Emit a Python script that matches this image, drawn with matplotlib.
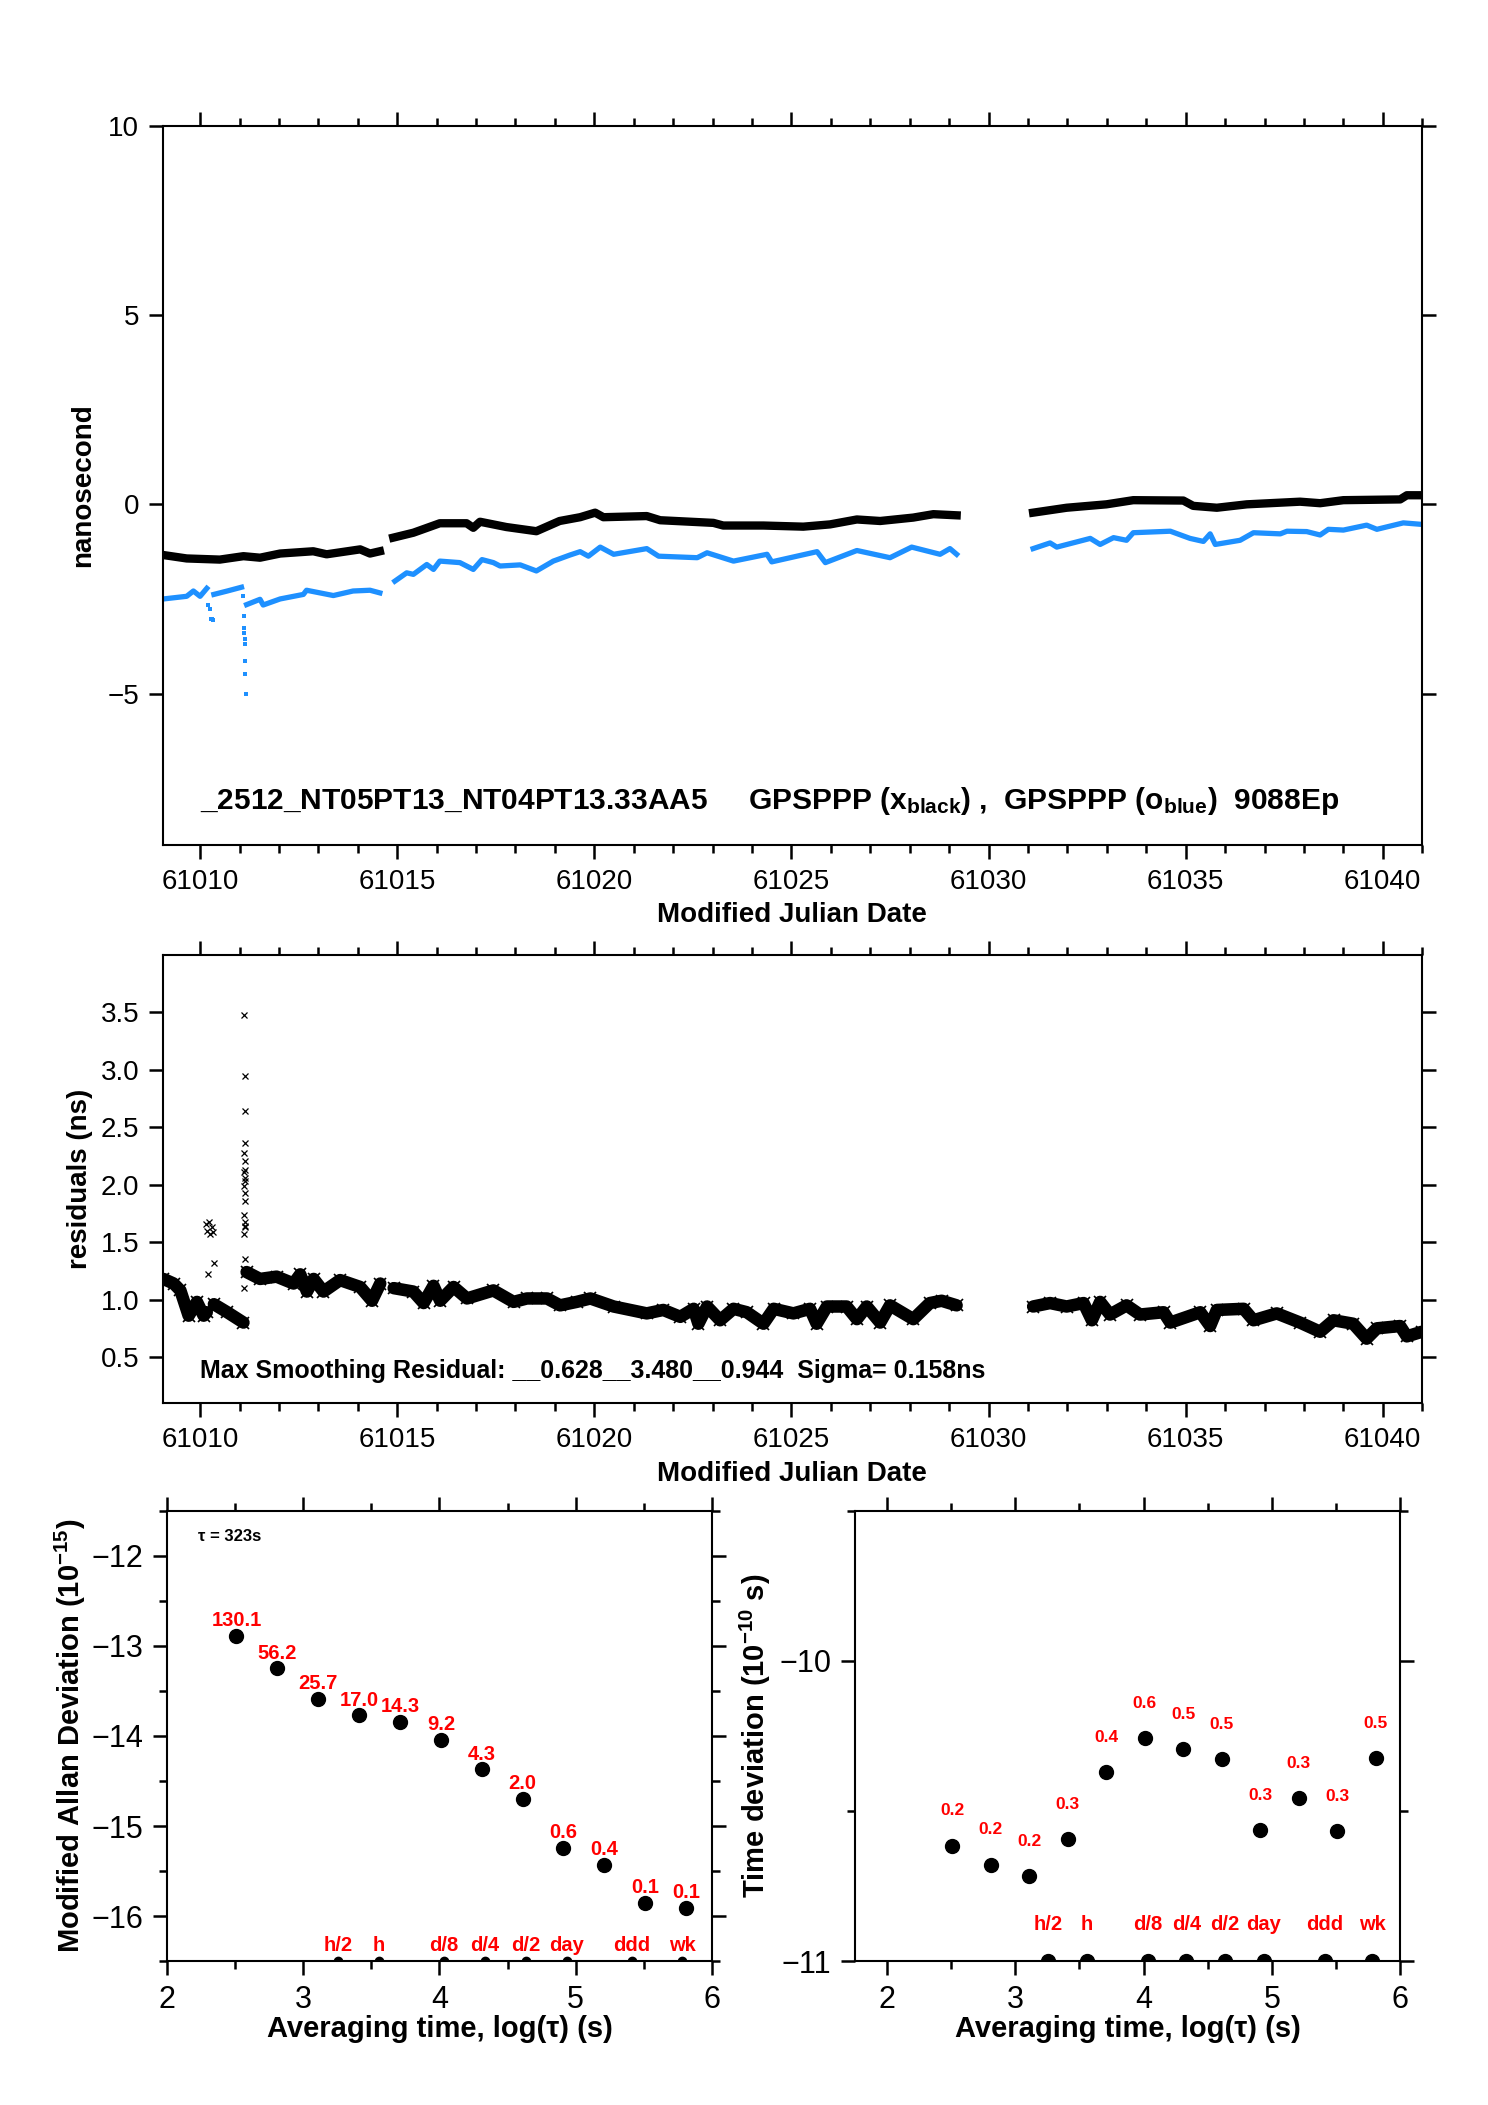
import numpy as np
import matplotlib
matplotlib.use('Agg')
import matplotlib.pyplot as plt
from matplotlib.ticker import MultipleLocator, FormatStrFormatter

plt.rcParams['font.family'] = ['Liberation Sans', 'DejaVu Sans']
plt.rcParams['mathtext.fontset'] = 'custom'
plt.rcParams['mathtext.rm'] = 'Liberation Sans'
plt.rcParams['mathtext.bf'] = 'Liberation Sans:bold'
plt.rcParams['mathtext.it'] = 'Liberation Sans:italic'

nan = np.nan

# top panel: GPSPPP (black) time series, ns
mjd_black = [61009.07, 61009.66, 61010.50, 61011.10, 61011.52, 61012.03, 61012.87, 61013.21,
             61014.06, 61014.31, 61014.56, nan,
             61014.90, 61015.41, 61016.08, 61016.76, 61016.93, 61017.10, 61017.77, 61018.53,
             61019.12, 61019.64, 61020.02, 61020.23, 61021.33, 61021.67, 61023.02, 61023.27,
             61024.29, 61025.30, 61025.98, 61026.66, 61027.25, 61028.09, 61028.60, 61029.19, nan,
             61031.13, 61031.98, 61032.99, 61033.67, 61034.94, 61035.19, 61035.79, 61036.55,
             61037.90, 61038.41, 61039.00, 61040.44, 61040.61, 61040.99]
ns_black = [-1.34, -1.43, -1.46, -1.37, -1.41, -1.30, -1.24, -1.32,
            -1.19, -1.30, -1.24, nan,
            -0.88, -0.75, -0.50, -0.50, -0.62, -0.46, -0.60, -0.71,
            -0.44, -0.34, -0.22, -0.34, -0.31, -0.42, -0.49, -0.56,
            -0.56, -0.59, -0.53, -0.40, -0.44, -0.35, -0.26, -0.29, nan,
            -0.22, -0.09, 0.00, 0.11, 0.10, -0.04, -0.09, 0.00,
            0.07, 0.03, 0.11, 0.13, 0.24, 0.24]

# top panel: GPSPPP (blue) time series, ns
mjd_blue = [61009.07, 61009.66, 61009.83, 61010.00, 61010.17, nan,
            61010.35, 61010.69, 61011.05, nan,
            61011.18, 61011.52, 61011.60, 61012.03, 61012.62, 61012.70, 61013.38, 61013.88,
            61014.31, 61014.56, nan,
            61014.94, 61015.24, 61015.41, 61015.75, 61015.92, 61016.08, 61016.59, 61016.93,
            61017.15, 61017.44, 61017.61, 61018.12, 61018.53, 61018.96, 61019.38, 61019.64,
            61019.85, 61020.15, 61020.49, 61021.33, 61021.63, 61022.61, 61022.86, 61023.53,
            61024.38, 61024.50, 61025.65, 61025.86, 61026.66, 61027.50, 61028.05, 61028.77,
            61029.02, 61029.19, nan,
            61031.13, 61031.56, 61031.73, 61032.58, 61032.83, 61033.17, 61033.50, 61033.67,
            61034.61, 61035.11, 61035.45, 61035.62, 61035.75, 61036.38, 61036.72, 61037.40,
            61037.57, 61038.07, 61038.41, 61038.62, 61039.00, 61039.59, 61039.85, 61040.52,
            61040.99]
ns_blue = [-2.50, -2.43, -2.29, -2.43, -2.22, nan,
           -2.38, -2.29, -2.19, nan,
           -2.65, -2.51, -2.66, -2.50, -2.38, -2.27, -2.41, -2.29,
           -2.27, -2.34, nan,
           -2.03, -1.81, -1.85, -1.59, -1.72, -1.50, -1.54, -1.72,
           -1.46, -1.54, -1.63, -1.60, -1.76, -1.50, -1.34, -1.25,
           -1.37, -1.13, -1.32, -1.17, -1.37, -1.41, -1.28, -1.50,
           -1.32, -1.52, -1.25, -1.54, -1.22, -1.41, -1.13, -1.32,
           -1.17, -1.32, nan,
           -1.17, -1.02, -1.13, -0.90, -1.06, -0.88, -0.95, -0.75,
           -0.71, -0.90, -0.98, -0.78, -1.06, -0.95, -0.75, -0.78,
           -0.71, -0.72, -0.81, -0.66, -0.68, -0.55, -0.66, -0.49,
           -0.53]

# isolated blue points (spikes)
mjd_blue_spike = [61010.20, 61010.24, 61010.28, 61010.31, 61010.33,
                  61011.10, 61011.11, 61011.12, 61011.12, 61011.13, 61011.13, 61011.14, 61011.15, 61011.16]
ns_blue_spike = [-2.65, -2.77, -3.02, -3.04, -3.06,
                 -2.43, -2.96, -3.27, -3.40, -3.55, -3.70, -4.14, -4.48, -5.01]

# middle panel: smoothing residuals, ns
mjd_res = [61009.07, 61009.33, 61009.50, 61009.71, 61009.92, 61010.09, 61010.17, nan,
           61010.35, 61010.69, 61011.10, nan,
           61011.18, 61011.52, 61011.94, 61012.37, 61012.54, 61012.71, 61012.88, 61013.13,
           61013.55, 61014.06, 61014.36, 61014.57, nan,
           61014.91, 61015.41, 61015.67, 61015.92, 61016.09, 61016.43, 61016.77, 61017.44,
           61017.95, 61018.29, 61018.80, 61019.13, 61019.55, 61019.90, 61020.49, 61021.33,
           61021.75, 61022.18, 61022.52, 61022.64, 61022.86, 61023.19, 61023.53, 61023.87,
           61024.29, 61024.55, 61025.05, 61025.47, 61025.64, 61025.90, 61026.40, 61026.66,
           61026.91, 61027.25, 61027.50, 61028.09, 61028.51, 61028.81, 61029.19, nan,
           61031.13, 61031.56, 61031.98, 61032.41, 61032.62, 61032.83, 61033.08, 61033.50,
           61033.84, 61034.44, 61034.61, 61035.37, 61035.62, 61035.79, 61036.47, 61036.72,
           61037.31, 61037.90, 61038.41, 61038.75, 61039.25, 61039.59, 61039.85, 61040.44,
           61040.61, 61040.99]
res = [1.18, 1.14, 1.08, 0.86, 0.98, 0.86, 0.89, nan,
       0.96, 0.89, 0.80, nan,
       1.24, 1.18, 1.20, 1.14, 1.22, 1.07, 1.18, 1.07,
       1.17, 1.11, 0.99, 1.14, nan,
       1.10, 1.07, 0.97, 1.12, 0.99, 1.11, 1.01, 1.08,
       0.98, 1.01, 1.01, 0.95, 0.98, 1.01, 0.94, 0.88,
       0.91, 0.85, 0.92, 0.79, 0.94, 0.82, 0.92, 0.89,
       0.79, 0.92, 0.88, 0.92, 0.79, 0.94, 0.94, 0.83,
       0.94, 0.80, 0.95, 0.83, 0.97, 0.99, 0.95, nan,
       0.94, 0.97, 0.94, 0.97, 0.82, 0.98, 0.87, 0.95,
       0.87, 0.89, 0.80, 0.89, 0.77, 0.91, 0.92, 0.82,
       0.88, 0.80, 0.72, 0.82, 0.79, 0.66, 0.75, 0.77,
       0.68, 0.72]

# middle panel: isolated residual points
mjd_res_out = [61010.14, 61010.18, 61010.22, 61010.26, 61010.30, 61010.34, 61010.20, 61010.36,
               61011.12, 61011.13, 61011.13, 61011.14, 61011.12, 61011.14, 61011.13, 61011.12,
               61011.14, 61011.13, 61011.12, 61011.14, 61011.13, 61011.12, 61011.14, 61011.13,
               61011.12, 61011.13, 61011.12, 61011.13]
res_out = [1.66, 1.60, 1.68, 1.57, 1.63, 1.59, 1.22, 1.32,
           3.48, 2.95, 2.64, 2.36, 2.28, 2.21, 2.13, 2.11,
           2.06, 2.03, 1.99, 1.93, 1.86, 1.74, 1.64, 1.63,
           1.57, 1.35, 1.10, 1.68]

# bottom panels: stability
log_tau = [2.51, 2.81, 3.11, 3.41, 3.71, 4.01, 4.31, 4.61, 4.91, 5.21, 5.51, 5.81]
mdev_log = [-12.89, -13.25, -13.59, -13.77, -13.84, -14.04, -14.37, -14.70, -15.24, -15.43, -15.85, -15.91]
mdev_lab = ['130.1', '56.2', '25.7', '17.0', '14.3', '9.2', '4.3', '2.0', '0.6', '0.4', '0.1', '0.1']
tdev_log = [-10.615, -10.679, -10.717, -10.594, -10.370, -10.258, -10.294, -10.328, -10.563, -10.456, -10.567, -10.324]
tdev_lab = ['0.2', '0.2', '0.2', '0.3', '0.4', '0.6', '0.5', '0.5', '0.3', '0.3', '0.3', '0.5']
mark_names = ['h/2', 'h', 'd/8', 'd/4', 'd/2', 'day', 'ddd', 'wk']
mark_log = [3.255, 3.556, 4.033, 4.334, 4.635, 4.936, 5.414, 5.781]

RED = '#ff0000'
BLUE = '#1e90ff'


def style(ax, size):
    for s in ax.spines.values():
        s.set_linewidth(1.5)
    ax.tick_params(which='both', direction='out', top=True, right=True, width=1.8,
                   labelsize=size, pad=7)
    ax.tick_params(which='major', length=10)
    ax.tick_params(which='minor', length=6)


fig = plt.figure(figsize=(14.88, 21.05), dpi=100)

# ---- top panel
ax1 = fig.add_axes([0.1093, 0.5986, 0.8465, 0.3416])
ax1.plot(mjd_black, ns_black, color='black', lw=6, solid_joinstyle='round')
ax1.plot(mjd_blue, ns_blue, color=BLUE, lw=3.8, solid_joinstyle='round')
ax1.plot(mjd_blue_spike, ns_blue_spike, 's', color=BLUE, ms=3, mew=0)
ax1.set_xlim(61009.05, 61041.0)
ax1.set_ylim(-9, 10)
ax1.xaxis.set_major_locator(MultipleLocator(5))
ax1.xaxis.set_minor_locator(MultipleLocator(1))
ax1.xaxis.set_major_formatter(FormatStrFormatter('%d'))
ax1.yaxis.set_major_locator(MultipleLocator(5))
style(ax1, 20)
ax1.set_ylabel('nanosecond', fontsize=20, fontweight='bold')
ax1.yaxis.set_label_coords(-0.053, 0.5)
ax1.set_xlabel('Modified Julian Date', fontsize=20, fontweight='bold')
ax1.xaxis.set_label_coords(0.5, -0.097)
ax1.xaxis.label.set_va('center')
ax1.text(61010.0, -7.85,
         r'_2512_NT05PT13_NT04PT13.33AA5     GPSPPP (x$_{\mathbf{black}}$) ,  '
         r'GPSPPP (o$_{\mathbf{blue}}$)  9088Ep',
         fontsize=21.5, fontweight='bold', va='center', ha='left')

# ---- middle panel
ax2 = fig.add_axes([0.1093, 0.3335, 0.8465, 0.2128])
ax2.plot(mjd_res, res, color='black', lw=9, solid_joinstyle='round', solid_capstyle='round')
ax2.plot(mjd_res, res, 'x', color='black', ms=9, mew=1.2)
ax2.plot(mjd_res_out, res_out, 'x', color='black', ms=5, mew=0.9)
ax2.set_xlim(61009.05, 61041.0)
ax2.set_ylim(0.1, 4.0)
ax2.xaxis.set_major_locator(MultipleLocator(5))
ax2.xaxis.set_minor_locator(MultipleLocator(1))
ax2.xaxis.set_major_formatter(FormatStrFormatter('%d'))
ax2.set_yticks(np.arange(0.5, 3.51, 0.5))
ax2.yaxis.set_major_formatter(FormatStrFormatter('%.1f'))
style(ax2, 20)
ax2.set_ylabel('residuals (ns)', fontsize=20, fontweight='bold')
ax2.yaxis.set_label_coords(-0.055, 0.5)
ax2.set_xlabel('Modified Julian Date', fontsize=20, fontweight='bold')
ax2.xaxis.set_label_coords(0.5, -0.158)
ax2.xaxis.label.set_va('center')
ax2.text(61010.0, 0.38, 'Max Smoothing Residual: __0.628__3.480__0.944  Sigma= 0.158ns',
         fontsize=18, fontweight='bold', va='center', ha='left')

# ---- bottom left: modified Allan deviation
ax3 = fig.add_axes([0.1122, 0.0684, 0.3663, 0.2138])
ax3.plot(log_tau, mdev_log, 'o', color='black', ms=10)
for x, y, t in zip(log_tau, mdev_log, mdev_lab):
    ax3.annotate(t, (x, y), xytext=(0, 11), textcoords='offset points', ha='center',
                 va='center', color=RED, fontsize=14.5, fontweight='bold')
ax3.plot(mark_log, [-16.5] * len(mark_log), 'o', color='black', ms=6, clip_on=True)
for x, t in zip(mark_log, mark_names):
    ax3.annotate(t, (x, -16.5), xytext=(0, 11), textcoords='offset points', ha='center',
                 va='center', color=RED, fontsize=14.5, fontweight='bold')
ax3.set_xlim(2, 6)
ax3.set_ylim(-16.5, -11.5)
ax3.xaxis.set_major_locator(MultipleLocator(1))
ax3.xaxis.set_minor_locator(MultipleLocator(0.5))
ax3.yaxis.set_major_locator(MultipleLocator(1))
ax3.yaxis.set_minor_locator(MultipleLocator(0.5))
style(ax3, 22)
ax3.text(0.057, 0.943, 'τ = 323s', transform=ax3.transAxes, fontsize=12, fontweight='bold',
         ha='left', va='center')
ax3.set_ylabel(r'Modified Allan Deviation (10$^{\mathbf{-15}}$)', fontsize=21, fontweight='bold')
ax3.yaxis.set_label_coords(-0.145, 0.5)
ax3.set_xlabel('Averaging time, log(τ) (s)', fontsize=21, fontweight='bold')
ax3.xaxis.set_label_coords(0.5, -0.151)
ax3.xaxis.label.set_va('center')

# ---- bottom right: time deviation
ax4 = fig.add_axes([0.5746, 0.0684, 0.3663, 0.2138])
ax4.plot(log_tau, tdev_log, 'o', color='black', ms=10)
for x, y, t in zip(log_tau, tdev_log, tdev_lab):
    ax4.annotate(t, (x, y), xytext=(0, 25), textcoords='offset points', ha='center',
                 va='center', color=RED, fontsize=12.5, fontweight='bold')
ax4.plot(mark_log, [-11.0] * len(mark_log), 'o', color='black', ms=10, clip_on=True)
for x, t in zip(mark_log, mark_names):
    ax4.annotate(t, (x, -11.0), xytext=(0, 26), textcoords='offset points', ha='center',
                 va='center', color=RED, fontsize=14.5, fontweight='bold')
ax4.set_xlim(1.75, 6)
ax4.set_ylim(-11, -9.5)
ax4.xaxis.set_major_locator(MultipleLocator(1))
ax4.xaxis.set_minor_locator(MultipleLocator(0.5))
ax4.yaxis.set_major_locator(MultipleLocator(1))
ax4.yaxis.set_minor_locator(MultipleLocator(0.5))
style(ax4, 22)
ax4.set_ylabel(r'Time deviation (10$^{\mathbf{-10}}$ s)', fontsize=21, fontweight='bold')
ax4.yaxis.set_label_coords(-0.15, 0.5)
ax4.set_xlabel('Averaging time, log(τ) (s)', fontsize=21, fontweight='bold')
ax4.xaxis.set_label_coords(0.5, -0.151)
ax4.xaxis.label.set_va('center')

fig.savefig('out.png', dpi=100)
